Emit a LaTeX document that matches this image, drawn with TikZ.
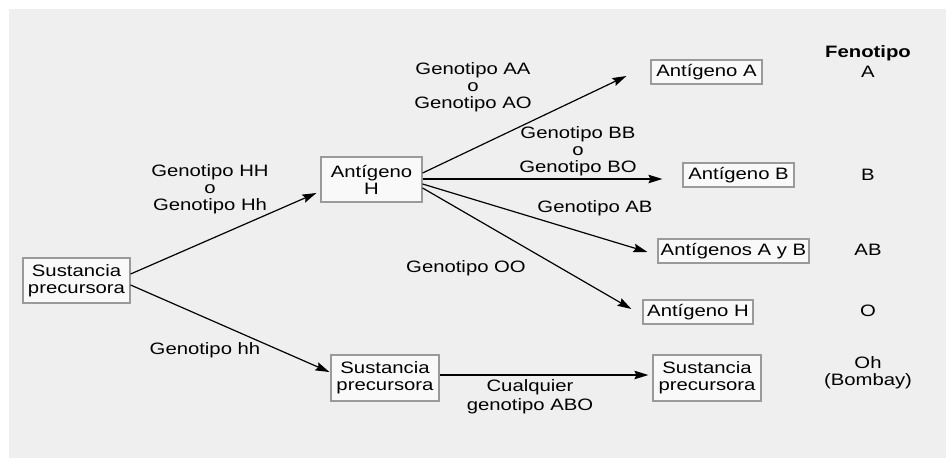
\documentclass[tikz,border=0pt]{standalone}
\usepackage{fontspec}
\setmainfont{Liberation Sans}[FakeStretch=1.23]
\usetikzlibrary{arrows.meta,calc}
\definecolor{bggray}{HTML}{EFEFEF}
\definecolor{boxfill}{HTML}{F9F9F9}
\definecolor{boxline}{HTML}{9A9A9A}
\begin{document}
\begin{tikzpicture}[x=1pt,y=-1pt,
  every node/.style={font=\fontsize{16.5}{17}\selectfont, align=center, inner sep=0pt},
  box/.style={draw=boxline, fill=boxfill, line width=1.2pt},
  lbl/.style={},
  arr/.style={line width=1.2pt, -{Stealth[length=14pt,width=8.5pt,inset=2pt]}}]
\useasboundingbox (0,0) rectangle (946,458);
\fill[white] (0,0) rectangle (946,458);
\fill[bggray] (9,9) rectangle (946,458);
% boxes
\node[box, minimum width=107pt, minimum height=45pt] (L) at (76.5,280.5) {Sustancia\\precursora};
\node[box, minimum width=101pt, minimum height=45pt] (H) at (371.5,179.5) {Antígeno\\H};
\node[box, minimum width=111pt, minimum height=24pt] (A) at (706.5,72) {Antígeno A};
\node[box, minimum width=111pt, minimum height=24pt] (B) at (738.5,175) {Antígeno B};
\node[box, minimum width=151pt, minimum height=24pt] (AB) at (733.5,251) {Antígenos A y B};
\node[box, minimum width=110pt, minimum height=24pt] (OH) at (698,312) {Antígeno H};
\node[box, minimum width=108pt, minimum height=46pt] (M) at (385,378) {Sustancia\\precursora};
\node[box, minimum width=108pt, minimum height=46pt] (R) at (707,378) {Sustancia\\precursora};
% arrows
\draw[arr] ($(L.east)+(0,-6.5)$) -- ($(H.west)+(-4,13.5)$);
\draw[arr] ($(L.east)+(0,4.5)$) -- ($(M.west)+(-1,-6)$);
\draw[arr] ($(H.east)+(0,-6.5)$) -- ($(A.west)+(-24,4)$);
\draw[arr] ($(H.east)+(0,-0.5)$) -- ($(B.west)+(-20,4)$);
\draw[arr] ($(H.east)+(0,4.5)$) -- ($(AB.west)+(-10,1)$);
\draw[arr] ($(H.east)+(0,8.5)$) -- ($(OH.west)+(-11,-3)$);
\draw[arr] ($(M.east)+(0,-3)$) -- ($(R.west)+(-4,-3)$);
% labels
\node[lbl] (tHH) at (210,189) {Genotipo HH\\o\\Genotipo Hh};
\node[lbl] (tAA) at (473,87) {Genotipo AA\\o\\Genotipo AO};
\node[lbl] (tBB) at (578,151) {Genotipo BB\\o\\Genotipo BO};
\node[lbl] (tAB) at (595,208) {Genotipo AB};
\node[lbl] (tOO) at (466,268) {Genotipo OO};
\node[lbl] (thh) at (205,350) {Genotipo hh};
\node[lbl, font=\fontsize{16.5}{19}\selectfont] (tABO) at (530,397) {Cualquier\\genotipo ABO};
% phenotypes
\node[font=\fontsize{16.5}{17}\selectfont\bfseries] (fen) at (868,53) {Fenotipo};
\node (pA) at (868,72) {A};
\node (pB) at (868,175) {B};
\node (pAB) at (868,250) {AB};
\node (pO) at (868,311) {O};
\node (pOh) at (868,373) {Oh\\(Bombay)};
\end{tikzpicture}
\end{document}
